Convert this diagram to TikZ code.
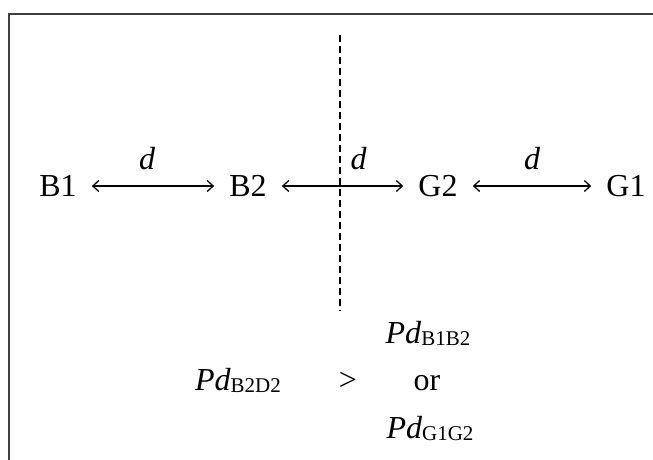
\documentclass[tikz,border=0pt]{standalone}
\usepackage{fontspec}
\setmainfont{Liberation Serif}
\usetikzlibrary{positioning,arrows.meta}
\newcommand{\pdsub}[1]{\textit{Pd}\raisebox{-0.08em}{\fontsize{21}{21}\selectfont #1}}

\begin{document}
\begin{tikzpicture}[x=1pt, y=-1pt, node distance=190pt, on grid,
        lbl/.style={font=\fontsize{32}{36}\selectfont, inner xsep=15pt, inner ysep=2pt},
        dist/.style={font=\fontsize{32}{36}\selectfont\itshape, above, inner sep=0pt, yshift=16pt},
        link/.style={{Straight Barb[length=6pt,width=11pt,line width=1.3pt]}-{Straight Barb[length=6pt,width=11pt,line width=1.3pt]}, line width=1.3pt},
        rel/.style={font=\fontsize{32}{36}\selectfont, anchor=base, inner sep=1pt}]
        \clip (0,0) rectangle (653,459);
        \draw[black!75, line width=2.2pt] (9,14) rectangle (680,490);

        \node[lbl] (B1) at (58,186) {B1};
        \node[lbl] (B2) [right=of B1] {B2};
        \node[lbl] (G2) [right=of B2] {G2};
        \node[lbl] (G1) [right=188pt of G2] {G1};

        \path[link] (B1) edge node[dist, xshift=-6pt] {d} (B2);
        \path[link] (B2) edge node[dist, xshift=16pt] {d} (G2);
        \path[link] (G2) edge node[dist] {d} (G1);

        \coordinate (divtop) at (340,35);
        \coordinate (divbot) at (340,311);
        \draw[dash pattern=on 7pt off 4pt, line width=1.3pt] (divtop) -- (divbot);

        \node[rel] (lhs) at (238,390) {\pdsub{B2D2}};
        \node[rel] (gt) at (348,390) {>};
        \node[rel] (or) at (427,390) {or};
        \node[rel] (pdb) at (428,343) {\pdsub{B1B2}};
        \node[rel] (pdg) at (430,438) {\pdsub{G1G2}};
\end{tikzpicture}
\end{document}
